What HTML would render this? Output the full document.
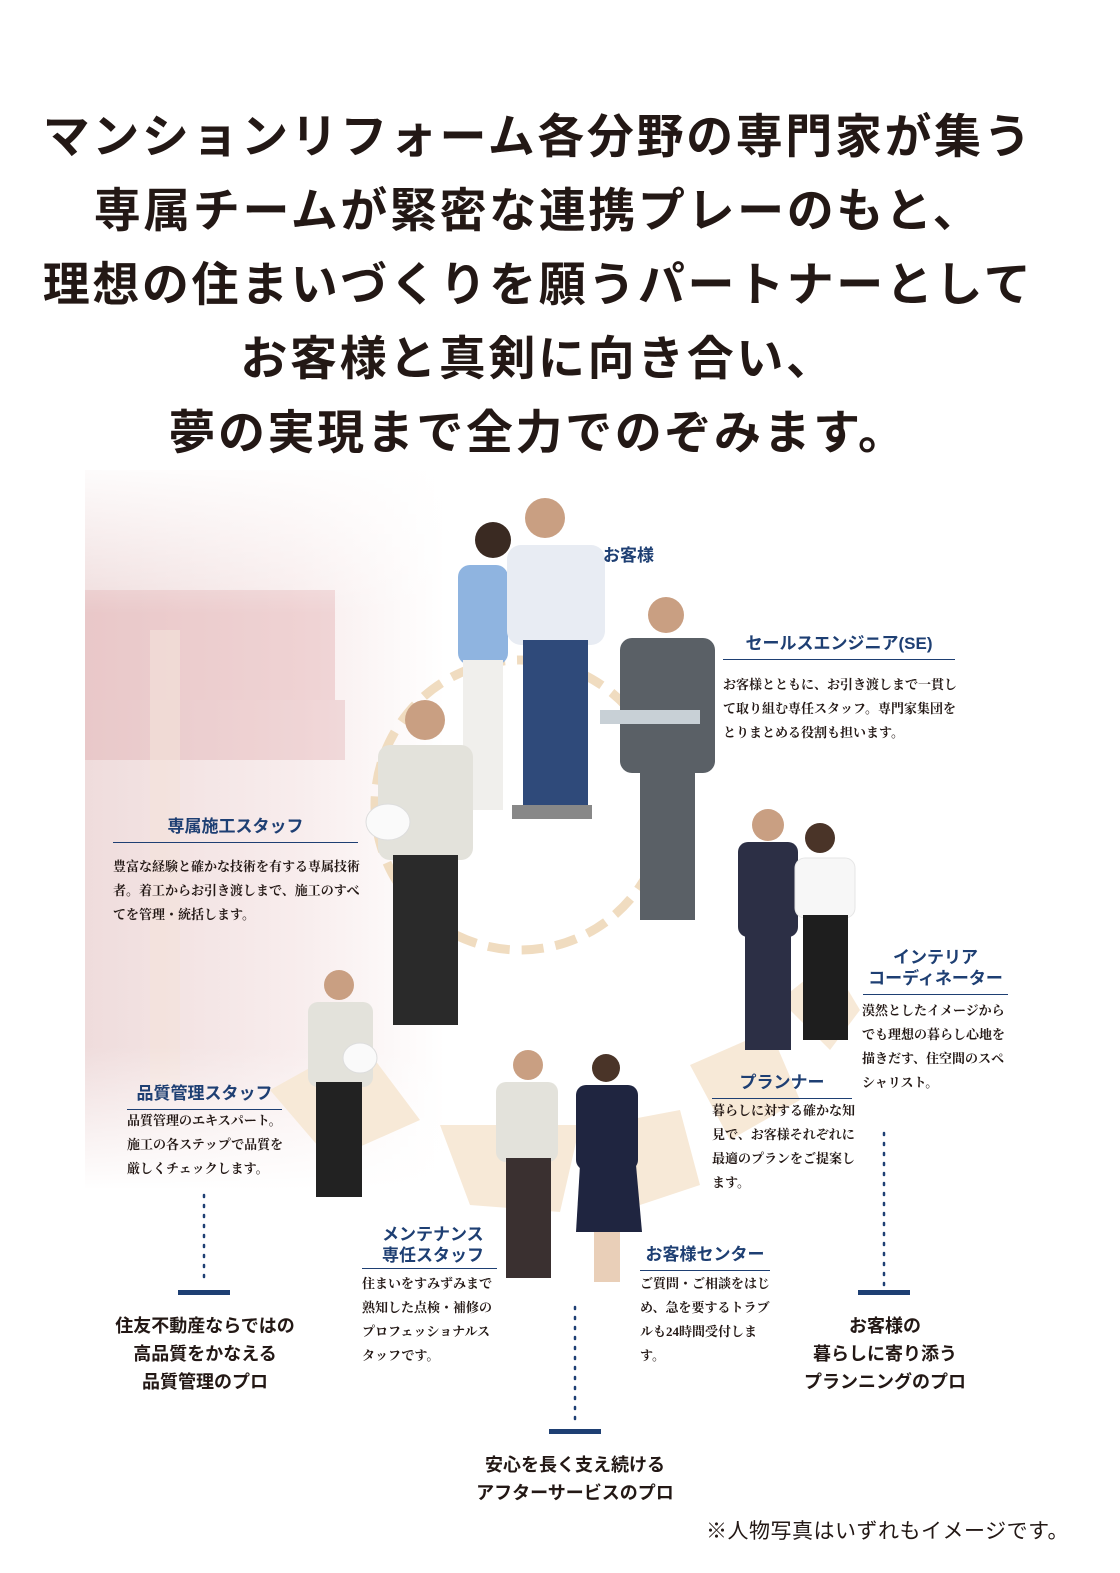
<!DOCTYPE html>
<html><head><meta charset="utf-8"><style>
body{margin:0;width:1120px;height:1573px;background:#fff;position:relative;overflow:hidden;font-family:"Liberation Sans","Noto Sans CJK JP",sans-serif;color:#231815}
.t{position:absolute;left:-22px;width:1120px;text-align:center;font-size:47px;font-weight:bold;letter-spacing:2.6px;white-space:nowrap}
.lb{position:absolute;color:#1e3f73;font-size:17px;font-weight:bold;border-bottom:1.5px solid #1e3f73;padding-bottom:5px;text-align:center;line-height:21px}
.ds{position:absolute;font-family:"Liberation Serif","Noto Serif CJK SC",serif;font-size:13px;font-weight:bold;line-height:24px;color:#231815}
.pro{position:absolute;text-align:center;font-size:18px;line-height:28px;font-weight:bold;color:#231815}
svg{position:absolute;left:0;top:0}
</style></head><body>
<div class="t" style="top:98px">マンションリフォーム各分野の専門家が集う</div>
<div class="t" style="top:172px">専属チームが緊密な連携プレーのもと、</div>
<div class="t" style="top:246px">理想の住まいづくりを願うパートナーとして</div>
<div class="t" style="top:320px">お客様と真剣に向き合い、</div>
<div class="t" style="top:394px">夢の実現まで全力でのぞみます。</div>

<svg width="1120" height="1573">
<defs>
<linearGradient id="bg" x1="0" y1="0" x2="1" y2="0"><stop offset="0" stop-color="#efdcdc"/><stop offset="0.6" stop-color="#f8eded"/><stop offset="1" stop-color="#fff"/></linearGradient>
<linearGradient id="bgv" x1="0" y1="0" x2="0" y2="1"><stop offset="0" stop-color="#fff" stop-opacity="0.9"/><stop offset="0.2" stop-color="#fff" stop-opacity="0"/><stop offset="0.8" stop-color="#fff" stop-opacity="0"/><stop offset="1" stop-color="#fff" stop-opacity="1"/></linearGradient>
</defs>
<rect x="85" y="470" width="360" height="720" fill="url(#bg)"/>
<rect x="85" y="590" width="250" height="110" fill="#e2a9ad" opacity="0.4"/>
<rect x="85" y="700" width="260" height="60" fill="#d99aa0" opacity="0.3"/>
<rect x="150" y="630" width="30" height="460" fill="#f3e3da" opacity="0.6"/>
<rect x="85" y="470" width="360" height="720" fill="url(#bgv)"/>
<g fill="#f7e9d7">
<path d="M270 1090 L360 1040 L420 1120 L330 1160 Z"/>
<path d="M440 1125 L470 1205 L560 1212 L580 1125 Z"/>
<path d="M600 1125 L640 1205 L700 1185 L680 1110 Z"/>
<path d="M690 1065 L730 1140 L800 1100 L770 1030 Z"/>
<path d="M780 1000 L830 1050 L860 1010 L830 960 Z"/>
</g>
<circle cx="520" cy="805" r="145" fill="none" stroke="#f0dcc0" stroke-width="9" stroke-dasharray="22 12"/>
<g>
<circle cx="493" cy="540" r="18" fill="#3a2a22"/><rect x="458" y="565" width="50" height="100" rx="12" fill="#8fb4e0"/><rect x="463" y="660" width="40" height="150" fill="#f0efec"/>
<circle cx="545" cy="518" r="20" fill="#c99f82"/><rect x="507" y="545" width="98" height="100" rx="14" fill="#e8ecf3"/><rect x="523" y="640" width="65" height="170" fill="#2f4a7a"/><rect x="512" y="805" width="80" height="14" fill="#888"/>
<circle cx="666" cy="615" r="18" fill="#c99f82"/><rect x="620" y="638" width="95" height="135" rx="12" fill="#5a6066"/><rect x="640" y="770" width="55" height="150" fill="#5a6066"/><rect x="600" y="710" width="100" height="14" fill="#c8d0d6"/>
<circle cx="425" cy="720" r="20" fill="#c99f82"/><rect x="378" y="745" width="95" height="115" rx="12" fill="#e3e2db"/><rect x="393" y="855" width="65" height="170" fill="#2a2a2a"/><ellipse cx="388" cy="822" rx="22" ry="18" fill="#fafafa" stroke="#ddd"/>
<circle cx="768" cy="825" r="16" fill="#c99f82"/><rect x="738" y="842" width="60" height="95" rx="10" fill="#2c2f45"/><rect x="745" y="935" width="46" height="115" fill="#2c2f45"/>
<circle cx="820" cy="838" r="15" fill="#4a3428"/><rect x="795" y="858" width="60" height="60" rx="10" fill="#f7f7f7" stroke="#e6e6e6"/><rect x="803" y="915" width="45" height="125" fill="#1e1e1e"/>
<circle cx="339" cy="985" r="15" fill="#c99f82"/><rect x="308" y="1002" width="65" height="85" rx="10" fill="#e3e2db"/><rect x="316" y="1082" width="46" height="115" fill="#222"/><ellipse cx="360" cy="1058" rx="17" ry="15" fill="#fafafa" stroke="#ddd"/>
<circle cx="528" cy="1065" r="15" fill="#c99f82"/><rect x="496" y="1082" width="62" height="80" rx="10" fill="#e3e2db"/><rect x="506" y="1158" width="45" height="120" fill="#3a3030"/>
<circle cx="606" cy="1068" r="14" fill="#4a3428"/><rect x="576" y="1085" width="62" height="85" rx="10" fill="#1f2540"/><path d="M580 1165 L636 1165 L642 1232 L576 1232 Z" fill="#1f2540"/><rect x="594" y="1232" width="26" height="50" fill="#e9cfb8"/>
</g>
<g stroke="#1e3f73" stroke-width="2.5" stroke-dasharray="2 8" stroke-linecap="round">
<line x1="204" y1="1195" x2="204" y2="1285"/>
<line x1="575" y1="1307" x2="575" y2="1422"/>
<line x1="884" y1="1133" x2="884" y2="1285"/>
</g>
<g fill="#1e3f73"><rect x="178" y="1290" width="52" height="5"/><rect x="549" y="1429" width="52" height="5"/><rect x="858" y="1290" width="52" height="5"/></g>
</svg>

<div style="position:absolute;left:603px;top:541px;color:#1e3f73;font-size:17px;font-weight:bold">お客様</div>
<div class="lb" style="left:723px;top:633px;width:232px">セールスエンジニア(SE)</div>
<div class="ds" style="left:723px;top:673px;width:245px">お客様とともに、お引き渡しまで一貫して取り組む専任スタッフ。専門家集団をとりまとめる役割も担います。</div>
<div class="lb" style="left:113px;top:816px;width:245px">専属施工スタッフ</div>
<div class="ds" style="left:113px;top:855px;width:250px">豊富な経験と確かな技術を有する専属技術者。着工からお引き渡しまで、施工のすべてを管理・統括します。</div>
<div class="lb" style="left:863px;top:947px;width:145px">インテリア<br>コーディネーター</div>
<div class="ds" style="left:862px;top:999px;width:150px">漠然としたイメージからでも理想の暮らし心地を描きだす、住空間のスペシャリスト。</div>
<div class="lb" style="left:712px;top:1072px;width:140px">プランナー</div>
<div class="ds" style="left:712px;top:1099px;width:145px">暮らしに対する確かな知見で、お客様それぞれに最適のプランをご提案します。</div>
<div class="lb" style="left:127px;top:1083px;width:155px">品質管理スタッフ</div>
<div class="ds" style="left:127px;top:1109px;width:160px">品質管理のエキスパート。施工の各ステップで品質を厳しくチェックします。</div>
<div class="lb" style="left:362px;top:1224px;width:135px;border:none;text-align:left;padding-left:20px;box-sizing:border-box">メンテナンス<br>専任スタッフ</div>
<div style="position:absolute;left:362px;top:1268px;width:135px;border-top:1.5px solid #1e3f73"></div>
<div class="ds" style="left:362px;top:1272px;width:140px">住まいをすみずみまで熟知した点検・補修のプロフェッショナルスタッフです。</div>
<div class="lb" style="left:640px;top:1244px;width:130px">お客様センター</div>
<div class="ds" style="left:640px;top:1272px;width:130px">ご質問・ご相談をはじめ、急を要するトラブルも24時間受付します。</div>

<div class="pro" style="left:80px;top:1312px;width:250px">住友不動産ならではの<br>高品質をかなえる<br>品質管理のプロ</div>
<div class="pro" style="left:440px;top:1451px;width:270px">安心を長く支え続ける<br>アフターサービスのプロ</div>
<div class="pro" style="left:760px;top:1312px;width:250px">お客様の<br>暮らしに寄り添う<br>プランニングのプロ</div>
<div style="position:absolute;left:706px;top:1515px;font-size:21px;letter-spacing:0.5px">※人物写真はいずれもイメージです。</div>
</body></html>
